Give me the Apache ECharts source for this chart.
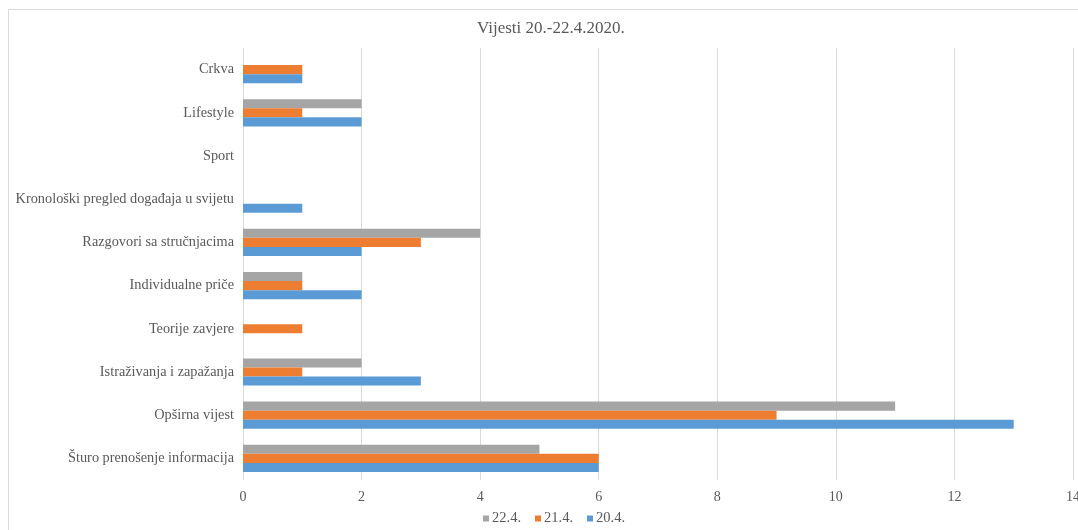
<!DOCTYPE html>
<html><head><meta charset="utf-8">
<script src="https://cdn.jsdelivr.net/npm/echarts@6/dist/echarts.min.js"></script>
<style>html,body{margin:0;padding:0;background:#fff;overflow:hidden}#c{width:1078px;height:530px}</style>
</head><body><div id="c"></div>
<script>
const categories = ['Šturo prenošenje informacija','Opširna vijest','Istraživanja i zapažanja','Teorije zavjere','Individualne priče','Razgovori sa stručnjacima','Kronološki pregled događaja u svijetu','Sport','Lifestyle','Crkva'];
const seriesNames = ['22.4.','21.4.','20.4.'];
const v22 = [5,11,2,0,1,4,0,0,2,0];
const v21 = [6,9,1,1,1,3,0,0,1,1];
const v20 = [6,13,3,0,2,2,1,0,2,1];
const xTicks = [0,2,4,6,8,10,12,14];
const colors = ['#A5A5A5','#ED7D31','#5B9BD5'];
const font = 'Liberation Serif';
const chart = echarts.init(document.getElementById('c'));
const vals = [v22,v21,v20];
chart.setOption({
  animation:false,
  title:{text:'Vijesti 20.-22.4.2020.',left:472,top:15,textStyle:{fontFamily:font,fontSize:17,fontWeight:'normal',color:'#595959'}},
  legend:{data:seriesNames,bottom:-1,left:478,itemWidth:6,itemHeight:6,itemGap:14,icon:'rect',
    textStyle:{fontFamily:font,fontSize:14.5,color:'#595959',padding:[0,0,0,-2]}},
  grid:{left:243,right:5,top:48,bottom:50,containLabel:false,outerBoundsMode:'none'},
  xAxis:{type:'value',min:xTicks[0],max:xTicks[xTicks.length-1],interval:2,
    axisLine:{show:false},axisTick:{show:false},
    splitLine:{lineStyle:{color:'#d9d9d9'}},
    axisLabel:{fontFamily:font,fontSize:14,color:'#595959',margin:10}},
  yAxis:{type:'category',data:categories,axisLine:{show:false},axisTick:{show:false},
    axisLabel:{fontFamily:font,fontSize:14.3,color:'#595959',margin:9}},
  series: seriesNames.map((n,i)=>({name:n,type:'bar',data:vals[i],barGap:'0%',barCategoryGap:'37%',itemStyle:{color:colors[i]}})),
  graphic:[
    {type:'line',shape:{x1:8.5,y1:9.5,x2:1078,y2:9.5},style:{stroke:'#d9d9d9',lineWidth:1}},
    {type:'line',shape:{x1:8.5,y1:9.5,x2:8.5,y2:530},style:{stroke:'#d9d9d9',lineWidth:1}}
  ]
});
</script></body></html>
